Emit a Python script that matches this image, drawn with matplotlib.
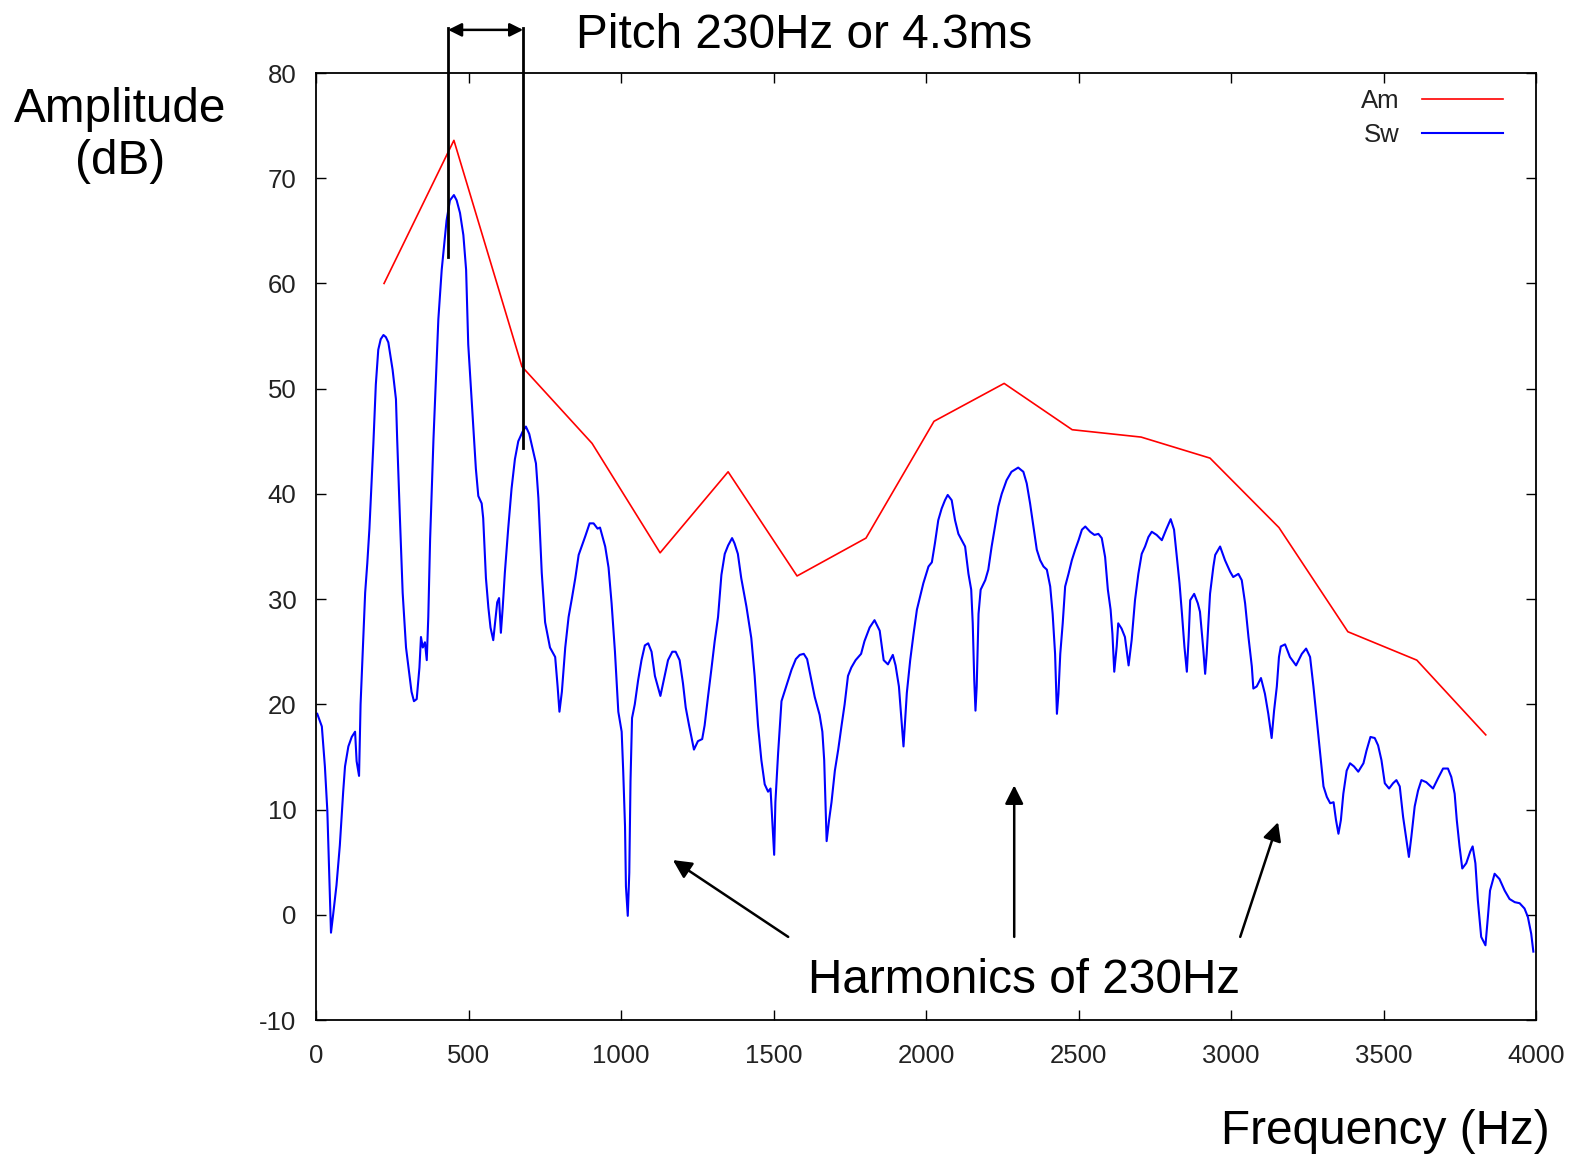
import matplotlib
matplotlib.use("Agg")
import matplotlib.pyplot as plt

plt.rcParams['font.family'] = ['Liberation Sans', 'DejaVu Sans']
plt.rcParams['axes.unicode_minus'] = False

# Am: smooth envelope (one point per harmonic)
freq_am = [223, 452, 675, 905, 1128, 1351, 1577, 1803, 2026, 2256, 2479,
           2705, 2931, 3157, 3383, 3609, 3835]
amp_am = [60.0, 73.6, 52.1, 44.8, 34.4, 42.1, 32.2, 35.8, 46.9, 50.5, 46.1,
          45.4, 43.4, 36.8, 26.9, 24.2, 17.1]

# Sw: short-window spectrum
freq_sw = [4, 19, 29, 37, 42, 49, 56, 67, 78, 89, 95, 106, 117, 128, 133, 141,
           146, 153, 161, 168, 175, 182, 188, 196, 204, 212, 221, 229, 237, 251,
           262, 266, 275, 284, 295, 305, 313, 321, 330, 339, 344, 350, 357, 363,
           368, 374, 385, 393, 401, 412, 423, 428, 439, 452, 461, 472, 483, 492,
           499, 507, 516, 524, 532, 543, 548, 557, 565, 572, 581, 588, 594, 600,
           606, 612, 619, 630, 641, 652, 663, 677, 688, 699, 710, 721, 729, 740,
           751, 759, 767, 784, 792, 798, 806, 817, 828, 839, 850, 861, 872, 883,
           897, 910, 923,
           931, 948, 959, 969, 980, 991, 1002, 1007, 1013, 1016, 1022, 1027, 1031,
           1036, 1045, 1056, 1067, 1078, 1089, 1100, 1111, 1129, 1143, 1154, 1168,
           1179, 1192, 1203, 1212, 1223, 1230, 1239, 1252, 1266, 1274, 1285, 1296,
           1307, 1318, 1329, 1340, 1351, 1364, 1372, 1383, 1394, 1411, 1427, 1438,
           1449, 1460, 1471, 1482, 1490, 1493, 1498, 1502, 1506, 1515, 1526, 1537,
           1548, 1559, 1573, 1586, 1599, 1610, 1621, 1635, 1651, 1660, 1666, 1671,
           1674, 1682, 1690, 1701, 1712, 1723, 1733, 1744, 1755, 1769, 1787, 1798,
           1815, 1831, 1848, 1861, 1875, 1891, 1900, 1911,
           1926, 1937, 1948, 1959, 1970, 1980, 1991, 2008, 2019, 2029, 2040, 2051,
           2062, 2071, 2084, 2095, 2106, 2117, 2128, 2139, 2148, 2153, 2158, 2162,
           2166, 2172, 2179, 2194, 2204, 2215, 2226, 2237, 2248, 2264, 2280, 2302,
           2319, 2330, 2341, 2352, 2363, 2374, 2385, 2396, 2407, 2415, 2423, 2429,
           2434, 2440, 2448, 2456, 2467, 2478, 2489, 2500, 2511, 2522, 2538, 2552,
           2565, 2576, 2587, 2596, 2605, 2611, 2617, 2625, 2630, 2641, 2652, 2664,
           2674, 2685, 2696, 2707, 2718, 2729, 2740, 2756, 2773, 2787, 2802, 2813,
           2822, 2831, 2839, 2847, 2855, 2861, 2866, 2879, 2891,
           2898, 2909, 2915, 2920, 2926, 2931, 2942, 2948, 2964, 2980, 2997, 3007,
           3024, 3035, 3046, 3057, 3068, 3073, 3084, 3098, 3111, 3122, 3133, 3141,
           3150, 3157, 3163, 3177, 3193, 3213, 3232, 3246, 3259, 3270, 3281, 3292,
           3303, 3314, 3325, 3336, 3344, 3352, 3360, 3368, 3379, 3390, 3403, 3417,
           3434, 3444, 3457, 3471, 3482, 3493, 3504, 3518, 3531, 3542, 3553, 3564,
           3575, 3583, 3591, 3602, 3613, 3624, 3640, 3662, 3679, 3695, 3711, 3722,
           3733, 3740, 3749, 3758, 3771, 3784, 3792, 3801, 3809, 3820, 3834, 3842,
           3849, 3864, 3880, 3897, 3913, 3930, 3946, 3962, 3973, 3984, 3991]
amp_sw = [19.1, 17.9, 14.1, 9.9, 5.1, -1.7, 0.0, 2.8, 6.6, 11.7, 14.1, 16.0, 16.9,
          17.4, 14.6, 13.2, 20.0, 25.0, 30.6, 33.4, 36.7, 41.0, 44.8, 50.4, 53.7,
          54.7, 55.1, 54.9, 54.4, 51.8, 49.0, 45.2, 37.7, 30.6, 25.4, 23.1, 21.2,
          20.3, 20.5, 23.5, 26.4, 25.4, 25.9, 24.2, 28.3, 35.7, 45.2, 50.9, 56.6,
          61.3, 64.6, 66.0, 67.9, 68.4, 67.9, 66.7, 64.6, 61.3, 54.2, 50.4, 46.2,
          42.4, 39.8, 39.1, 37.7, 32.0, 29.2, 27.3, 26.1, 28.0, 29.7, 30.1, 26.8,
          29.2, 32.5, 36.7, 40.5, 43.3, 45.0, 45.9, 46.4, 45.7, 44.3, 42.9, 39.6,
          32.5, 27.8, 26.6, 25.4, 24.5, 21.7, 19.3, 21.2, 25.4, 28.3, 30.1, 32.0,
          34.2, 35.1, 36.0, 37.2, 37.2, 36.7,
          36.8, 35.0, 33.0, 29.6, 25.0, 19.3, 17.4, 13.7, 8.4, 2.7, -0.1, 4.0, 12.7,
          18.7, 20.0, 22.3, 24.2, 25.6, 25.8, 25.0, 22.7, 20.8, 22.7, 24.2, 25.0,
          25.0, 24.2, 22.0, 19.7, 18.0, 17.0, 15.7, 16.5, 16.7, 18.0, 20.7, 23.3,
          26.0, 28.3, 32.3, 34.3, 35.1, 35.8, 35.3, 34.3, 32.0, 29.3, 26.3, 22.7,
          18.0, 14.7, 12.4, 11.7, 12.0, 10.4, 7.6, 5.7, 10.7, 15.4, 20.3, 21.3,
          22.3, 23.3, 24.3, 24.7, 24.8, 24.3, 22.7, 20.7, 19.0, 17.4, 14.7, 9.7,
          7.0, 9.0, 10.7, 13.7, 15.7, 18.0, 20.0, 22.7, 23.5, 24.2, 24.8, 26.0,
          27.3, 28.0, 27.0, 24.2, 23.8, 24.7, 23.7, 21.7,
          16.0, 21.1, 24.2, 26.7, 29.0, 30.2, 31.5, 33.1, 33.5, 35.3, 37.5, 38.6,
          39.4, 39.9, 39.4, 37.5, 36.2, 35.6, 35.0, 32.4, 30.9, 27.7, 22.3, 19.4,
          21.7, 28.6, 30.9, 31.8, 32.8, 35.0, 36.9, 38.8, 40.0, 41.3, 42.1, 42.5,
          42.1, 41.0, 39.1, 36.9, 34.7, 33.7, 33.1, 32.8, 31.2, 28.6, 24.8, 19.1,
          21.0, 24.8, 27.7, 31.2, 32.4, 33.7, 34.7, 35.6, 36.6, 36.9, 36.4, 36.1,
          36.2, 35.8, 34.0, 30.9, 29.0, 26.7, 23.1, 25.5, 27.7, 27.2, 26.4, 23.7,
          26.1, 29.9, 32.4, 34.3, 35.0, 35.9, 36.4, 36.1, 35.6, 36.6, 37.6, 36.6,
          34.0, 31.5, 28.6, 25.5, 23.1, 26.4, 29.9, 30.5, 29.6,
          28.8, 25.2, 22.9, 24.8, 28.0, 30.5, 33.1, 34.2, 35.0, 33.7, 32.6, 32.1,
          32.4, 31.8, 29.6, 26.4, 23.6, 21.5, 21.7, 22.5, 21.0, 19.1, 16.8, 19.4,
          21.7, 24.5, 25.5, 25.7, 24.5, 23.7, 24.8, 25.3, 24.5, 21.7, 18.5, 15.3,
          12.2, 11.2, 10.6, 10.7, 9.0, 7.7, 9.0, 11.5, 13.7, 14.4, 14.1, 13.6,
          14.4, 15.6, 16.9, 16.8, 16.1, 14.7, 12.5, 12.0, 12.5, 12.8, 12.2, 9.3,
          7.1, 5.5, 7.4, 10.3, 11.8, 12.8, 12.6, 12.0, 13.0, 13.9, 13.9, 13.1,
          11.5, 9.0, 6.5, 4.4, 4.9, 6.0, 6.5, 4.9, 1.4, -2.1, -2.9, -0.2,
          2.3, 3.9, 3.4, 2.3, 1.5, 1.2, 1.1, 0.6, -0.2, -1.8, -3.5]

x_ticks = [0, 500, 1000, 1500, 2000, 2500, 3000, 3500, 4000]
y_ticks = [-10, 0, 10, 20, 30, 40, 50, 60, 70, 80]

# pitch period markers (Hz)
pitch_left, pitch_right = 433, 679

fig = plt.figure(figsize=(15.7, 11.57), dpi=100)
ax = fig.add_axes([0.2013, 0.1184, 0.7771, 0.8185])

ax.plot(freq_am, amp_am, color='#ff0000', lw=1.2, label='Am')
ax.plot(freq_sw, amp_sw, color='#0000ff', lw=1.5, label='Sw')

ax.set_xlim(0, 4000)
ax.set_ylim(-10, 80)
ax.set_xticks(x_ticks)
ax.set_yticks(y_ticks)
ax.tick_params(direction='in', length=7, width=1, top=True, right=True,
               labelsize=18.5, labelcolor='#222222', pad=14)
ax.tick_params(axis='x', pad=17)
for s in ax.spines.values():
    s.set_linewidth(1.3)

leg = ax.legend(loc='upper right', frameon=False, markerfirst=False,
                fontsize=18.5, handlelength=3.15, handletextpad=0.9,
                labelspacing=0.42, bbox_to_anchor=(0.992, 1.008))
for t in leg.get_texts():
    t.set_color('#222222')

big = 34.4

# pitch period annotation
ax.plot([pitch_left, pitch_left], [84.3, 62.5], color='k', lw=2, clip_on=False)
ax.plot([pitch_right, pitch_right], [84.3, 44.4], color='k', lw=2, clip_on=False)
ax.annotate('', xy=(pitch_left, 84.1), xytext=(pitch_right, 84.1),
            arrowprops=dict(arrowstyle='<|-|>', color='k', lw=1.8, mutation_scale=20,
                            shrinkA=0, shrinkB=0),
            annotation_clip=False)
fig.text(576 / 1570, 1 - 36 / 1157, 'Pitch 230Hz or 4.3ms', fontsize=big,
         ha='left', va='center')

# harmonics annotation
ax.text(2322, -6.2, 'Harmonics of 230Hz', fontsize=big, ha='center', va='center')
for tail, head in [((1548, -2.1), (1170, 5.2)),
                   ((2289, -2.1), (2289, 12.3)),
                   ((3030, -2.1), (3154, 8.8))]:
    ax.annotate('', xy=head, xytext=tail,
                arrowprops=dict(arrowstyle='-|>', color='k', lw=1.8,
                                mutation_scale=28, shrinkA=0, shrinkB=0))

fig.text(120 / 1570, 1 - 136 / 1157, 'Amplitude\n(dB)', fontsize=big,
         ha='center', va='center', multialignment='center', linespacing=1.2)
fig.text(1550 / 1570, 1 - 1132 / 1157, 'Frequency (Hz)', fontsize=big,
         ha='right', va='center')

fig.savefig('out.png', dpi=100)
